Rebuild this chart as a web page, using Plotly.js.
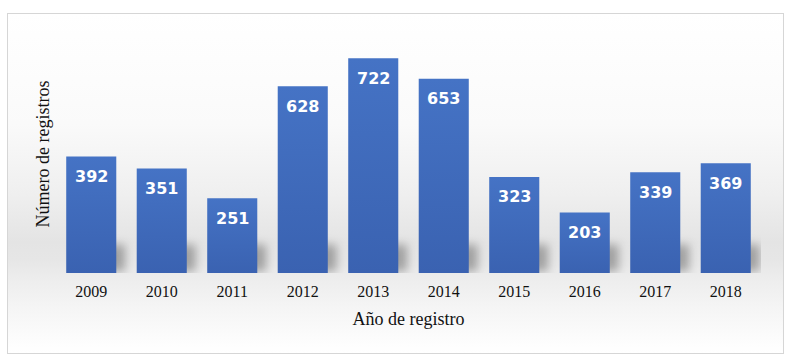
<!DOCTYPE html>
<html>
<head>
<meta charset="utf-8">
<script src="https://cdn.plot.ly/plotly-3.0.1.min.js"></script>
<style>
html,body{margin:0;padding:0;background:#fff;}
#wrap{position:relative;width:793px;height:364px;overflow:hidden;}
#frame{position:absolute;left:7px;top:13px;width:775px;height:339px;border:1px solid #d6d6d6;
 background:linear-gradient(to bottom,#ffffff 0px,#fafafa 110px,#efefef 180px,#e4e4e4 228px,#e6e6e6 245px,#eeeeee 268px,#f5f5f5 295px,#fbfbfb 320px,#ffffff 339px);}
#chart{position:absolute;left:0;top:0;width:793px;height:364px;}
</style>
</head>
<body>
<div id="wrap">
<div id="frame"></div>
<div id="chart"></div>
</div>
<script>
var years = ['2009','2010','2011','2012','2013','2014','2015','2016','2017','2018'];
var registros = [392,351,251,628,722,653,323,203,339,369];
var xTitle = 'Año de registro';
var yTitle = 'Número de registros';

var idx = years.map(function(_,i){return i;});
// floor shadow cast by each bar (decorative)
var shadow = {
  type:'bar', x:idx, y:registros.map(function(v){return Math.min(v,90);}),
  base:5, offset:-0.23, width:0.71,
  marker:{color:'rgba(0,0,0,0.30)', line:{width:0}},
  hoverinfo:'none'
};
var trace = {
  type:'bar', x:idx, y:registros, width:0.71,
  marker:{color:'#3f6cbf', line:{width:0}},
  hoverinfo:'none'
};
var annotations = idx.map(function(i){
  return {x:i, y:registros[i], xref:'x', yref:'y', text:String(registros[i]),
    showarrow:false, yshift:-20, yanchor:'middle',
    font:{family:'DejaVu Sans', size:16, color:'#ffffff', weight:'bold'}};
});
var layout = {
  width:793, height:364,
  margin:{l:56, r:32, t:35, b:91},
  paper_bgcolor:'rgba(0,0,0,0)', plot_bgcolor:'rgba(0,0,0,0)',
  barmode:'overlay',
  showlegend:false,
  font:{family:'Liberation Serif', color:'#000'},
  xaxis:{type:'linear', range:[-0.5,9.5], tickmode:'array', tickvals:idx, ticktext:years,
    showgrid:false, zeroline:false, showline:false, ticks:'', ticklabelstandoff:7,
    tickfont:{family:'Liberation Serif', size:16, color:'#111'},
    title:{text:xTitle, font:{family:'Liberation Serif', size:18, color:'#111'}, standoff:13}},
  yaxis:{range:[0,800], showgrid:false, zeroline:false, showline:false, showticklabels:false, ticks:'',
    title:{text:yTitle, font:{family:'Liberation Serif', size:18, color:'#111'}, standoff:0}},
  annotations:annotations
};
Plotly.newPlot('chart',[shadow, trace],layout,{staticPlot:true}).then(function(gd){
  var svg = gd.querySelector('svg.main-svg');
  var ns = 'http://www.w3.org/2000/svg';
  var defs = svg.querySelector('defs') || svg.insertBefore(document.createElementNS(ns,'defs'), svg.firstChild);
  var lg = document.createElementNS(ns,'linearGradient');
  lg.setAttribute('id','barGrad'); lg.setAttribute('x1','0'); lg.setAttribute('y1','0');
  lg.setAttribute('x2','0'); lg.setAttribute('y2','1');
  [['0','#4573c5'],['1','#3a62b1']].forEach(function(s){
    var st = document.createElementNS(ns,'stop');
    st.setAttribute('offset',s[0]); st.setAttribute('stop-color',s[1]); lg.appendChild(st);
  });
  defs.appendChild(lg);
  var flt = document.createElementNS(ns,'filter');
  flt.setAttribute('id','shBlur'); flt.setAttribute('x','-50%'); flt.setAttribute('y','-50%');
  flt.setAttribute('width','200%'); flt.setAttribute('height','200%');
  var fb = document.createElementNS(ns,'feGaussianBlur'); fb.setAttribute('stdDeviation','5');
  flt.appendChild(fb); defs.appendChild(flt);
  var groups = gd.querySelectorAll('.barlayer .trace');
  if (groups.length > 1) {
    groups[0].querySelectorAll('path').forEach(function(p){ p.setAttribute('filter','url(#shBlur)'); });
    groups[1].querySelectorAll('path').forEach(function(p){ p.style.fill = 'url(#barGrad)'; });
  }
});
</script>
</body>
</html>
